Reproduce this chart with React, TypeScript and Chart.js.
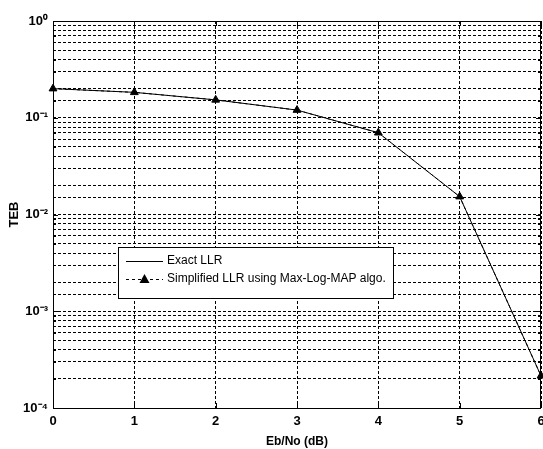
import React, { useEffect, useRef } from 'react';
import { Chart, registerables } from 'chart.js';

Chart.register(...registerables);

const ebNo = [0, 1, 2, 3, 4, 5, 6];
const tebExact = [0.2, 0.183, 0.153, 0.12, 0.07, 0.0153, 0.000215];
const tebSimplified = [0.2, 0.183, 0.153, 0.12, 0.07, 0.0153, 0.000215];
const seriesLabels = ['Exact LLR', 'Simplified LLR using Max-Log-MAP algo.'];
const xTitle = 'Eb/No (dB)';
const yTitle = 'TEB';
const yMin = 1e-4;
const yMax = 1;

const SUP: Record<string, string> = {
  '0': '\u2070', '1': '\u00b9', '2': '\u00b2', '3': '\u00b3', '4': '\u2074',
  '5': '\u2075', '6': '\u2076', '7': '\u2077', '8': '\u2078', '9': '\u2079', '-': '\u207b',
};
const sup = (n: number) => String(n).split('').map((c) => SUP[c] || c).join('');

const FONT = '"Liberation Sans", Arial, sans-serif';

const frame = {
  id: 'frame',
  afterDraw(chart: any) {
    const { ctx, chartArea: a, scales } = chart;
    ctx.save();
    ctx.strokeStyle = '#000';
    ctx.lineWidth = 1;
    ctx.setLineDash([]);
    // inward ticks
    ctx.beginPath();
    scales.y.ticks.forEach((t: any) => {
      const y = Math.round(scales.y.getPixelForValue(t.value)) + 0.5;
      const l = Math.abs(Math.log10(t.value) - Math.round(Math.log10(t.value))) < 1e-6 ? 5 : 3;
      ctx.moveTo(a.left, y); ctx.lineTo(a.left + l, y);
      ctx.moveTo(a.right, y); ctx.lineTo(a.right - l, y);
    });
    scales.x.ticks.forEach((t: any) => {
      const x = Math.round(scales.x.getPixelForValue(t.value)) + 0.5;
      ctx.moveTo(x, a.bottom); ctx.lineTo(x, a.bottom - 5);
      ctx.moveTo(x, a.top); ctx.lineTo(x, a.top + 5);
    });
    ctx.stroke();
    // box
    ctx.strokeRect(Math.round(a.left) + 0.5, Math.round(a.top) + 0.5, Math.round(a.right - a.left) - 1, Math.round(a.bottom - a.top));
    // legend
    const lx = 118.5, ly = 247.5, lw = 275, lh = 51;
    ctx.fillStyle = '#fff';
    ctx.fillRect(lx, ly, lw, lh);
    ctx.strokeRect(lx, ly, lw, lh);
    const rows = [261, 279];
    ctx.beginPath();
    ctx.moveTo(126, rows[0] + 0.5); ctx.lineTo(163, rows[0] + 0.5);
    ctx.stroke();
    ctx.setLineDash([3, 3]);
    ctx.beginPath();
    ctx.moveTo(126, rows[1] + 0.5); ctx.lineTo(163, rows[1] + 0.5);
    ctx.stroke();
    ctx.setLineDash([]);
    ctx.fillStyle = '#000';
    ctx.beginPath();
    ctx.moveTo(144.5, rows[1] - 5);
    ctx.lineTo(149.5, rows[1] + 4);
    ctx.lineTo(139.5, rows[1] + 4);
    ctx.closePath();
    ctx.fill();
    ctx.font = `12px ${FONT}`;
    ctx.textBaseline = 'middle';
    ctx.textAlign = 'left';
    ctx.fillText(seriesLabels[0], 167, rows[0]);
    ctx.fillText(seriesLabels[1], 167, rows[1]);
    ctx.restore();
  },
};

export default function App() {
  const ref = useRef<HTMLCanvasElement>(null);
  useEffect(() => {
    if (!ref.current) return;
    const chart = new Chart(ref.current, {
      type: 'line',
      data: {
        labels: ebNo,
        datasets: [
          {
            label: seriesLabels[0],
            data: ebNo.map((x, i) => ({ x, y: tebExact[i] })),
            borderColor: '#000',
            borderWidth: 1,
            pointRadius: 0,
            fill: false,
          },
          {
            label: seriesLabels[1],
            data: ebNo.map((x, i) => ({ x, y: tebSimplified[i] })),
            borderColor: '#000',
            borderWidth: 1,
            borderDash: [3, 3],
            pointStyle: 'triangle',
            pointRadius: 4.5,
            pointBackgroundColor: '#000',
            pointBorderColor: '#000',
            fill: false,
            clip: false,
          },
        ],
      },
      options: {
        animation: false,
        responsive: false,
        devicePixelRatio: 1,
        layout: { autoPadding: false, padding: { top: 21, right: 2, left: 0, bottom: 0 } },
        plugins: { legend: { display: false }, tooltip: { enabled: false } },
        scales: {
          x: {
            type: 'linear',
            min: 0,
            max: 6,
            afterFit: (s: any) => { s.height = 41; s.paddingLeft = 0; s.paddingRight = 0; },
            ticks: { stepSize: 1, color: '#000', padding: 6, font: { family: FONT, size: 13, weight: 'bold' } },
            grid: { color: '#000', lineWidth: 1, drawTicks: false },
            border: { display: false, dash: [3, 2] },
            title: { display: true, text: xTitle, color: '#000', padding: { top: 0, bottom: 0 }, font: { family: FONT, size: 12, weight: 'bold' } },
          },
          y: {
            type: 'logarithmic',
            min: yMin,
            max: yMax,
            afterFit: (s: any) => { s.width = 53; s.paddingTop = 0; s.paddingBottom = 0; },
            ticks: {
              autoSkip: false,
              color: '#000',
              padding: 5,
              font: { family: FONT, size: 13, weight: 'bold' },
              callback: (v: any) => {
                const l = Math.log10(Number(v));
                const r = Math.round(l);
                return Math.abs(l - r) < 1e-6 ? '10' + sup(r) : '';
              },
            },
            grid: { color: '#000', lineWidth: 1, drawTicks: false },
            border: { display: false, dash: [3, 2] },
            title: { display: true, text: yTitle, color: '#000', padding: { top: 7, bottom: 0 }, font: { family: FONT, size: 13, weight: 'bold' } },
          },
        },
      },
      plugins: [frame],
    });
    return () => chart.destroy();
  }, []);
  return (
    <div style={{ position: 'absolute', left: 0, top: 0, width: 543, height: 449, background: '#fff' }}>
      <canvas ref={ref} width={543} height={449} style={{ width: 543, height: 449, display: 'block' }} />
    </div>
  );
}
